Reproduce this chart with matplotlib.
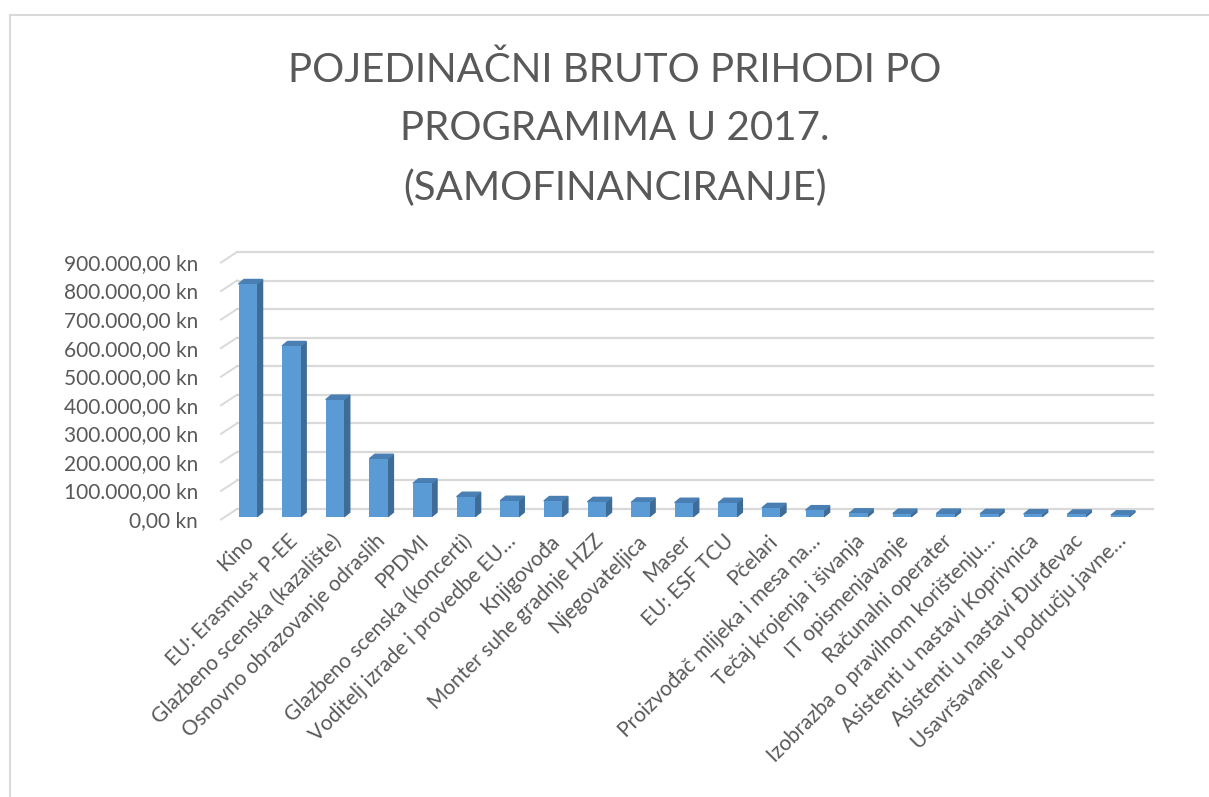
import matplotlib.pyplot as plt
from matplotlib.patches import Polygon
from matplotlib.lines import Line2D

W, H, DPI = 1209, 797, 100

# ---- data ----
categories = [
    "Kino", "EU: Erasmus+ P-EE", "Glazbeno scenska (kazalište)",
    "Osnovno obrazovanje odraslih", "PPDMI", "Glazbeno scenska (koncerti)",
    "Voditelj izrade i provedbe EU…", "Knjigovođa", "Monter suhe gradnje HZZ",
    "Njegovateljica", "Maser", "EU: ESF TCU", "Pčelari",
    "Proizvođač mlijeka i mesa na…", "Tečaj krojenja i šivanja",
    "IT opismenjavanje", "Računalni operater", "Izobrazba o pravilnom korištenju…",
    "Asistenti u nastavi Koprivnica", "Asistenti u nastavi Đurđevac",
    "Usavršavanje u području javne…",
]
values = [815000, 598000, 410000, 203000, 117000, 70000, 56000, 55000, 52000,
          50000, 49000, 49000, 31000, 23000, 12000, 11000, 11000, 10000,
          9000, 8000, 5000]
y_ticks = list(range(0, 900001, 100000))
title_lines = ["POJEDINAČNI BRUTO PRIHODI PO", "PROGRAMIMA U 2017.", "(SAMOFINANCIRANJE)"]


def kn(v):
    s = f"{v:,.2f}".replace(",", "X").replace(".", ",").replace("X", ".")
    return s + " kn"


y_tick_labels = [kn(t) for t in y_ticks]

# ---- style ----
FONT = "Lato"
TEXT_C = "#595959"
GRID_C = "#D9D9D9"
FRONT_C = "#5B9BD5"
SIDE_C = "#3F6C97"
TOP_C = "#4A7FB3"

# back wall geometry in pixels
LEFT, RIGHT, TOP, BOTTOM = 237, 1153, 252, 509
n = len(categories)
px_x = (RIGHT - LEFT) / n
px_y = (BOTTOM - TOP) / y_ticks[-1]

fig = plt.figure(figsize=(W / DPI, H / DPI), dpi=DPI)
ax = fig.add_axes([LEFT / W, 1 - BOTTOM / H, (RIGHT - LEFT) / W, (BOTTOM - TOP) / H])
ax.set_xlim(-0.5, n - 0.5)
ax.set_ylim(0, y_ticks[-1])
ax.axis("off")

# chart border (only top/left visible in the crop)
fig.add_artist(Line2D([10 / W, 10 / W], [0, 1 - 15 / H], color=GRID_C, lw=1.5))
fig.add_artist(Line2D([10 / W, 1], [1 - 15 / H, 1 - 15 / H], color=GRID_C, lw=1.5))

# gridlines on back wall + side wall stubs
stub_dx, stub_dy = -16 / px_x, -10.5 / px_y
for t, lab in zip(y_ticks, y_tick_labels):
    ax.plot([-0.5, n - 0.5], [t, t], color=GRID_C, lw=1.6, zorder=0, clip_on=False)
    ax.plot([-0.5, -0.5 + stub_dx], [t, t + stub_dy], color=GRID_C, lw=1.4,
            zorder=0, clip_on=False)
    ax.text(-0.5 + (198 - LEFT) / px_x, t - 12 / px_y, lab, ha="right", va="center",
            fontsize=15, color=TEXT_C, family=FONT, clip_on=False)

# 3d-ish columns
off_x, off_y = -11 / px_x, -7.7 / px_y
bw = 18.5 / px_x
dx, dy = 5.5 / px_x, 4.5 / px_y
xs = [i + off_x for i in range(n)]
ax.bar(xs, values, width=bw, bottom=off_y, color=FRONT_C, zorder=3, clip_on=False)
for x, v in zip(xs, values):
    x0, x1 = x - bw / 2, x + bw / 2
    y0, y1 = off_y, off_y + v
    ax.add_patch(Polygon([(x1, y0), (x1 + dx, y0 + dy), (x1 + dx, y1 + dy), (x1, y1)],
                         closed=True, color=SIDE_C, zorder=2, clip_on=False))
    ax.add_patch(Polygon([(x0, y1), (x1, y1), (x1 + dx, y1 + dy), (x0 + dx, y1 + dy)],
                         closed=True, color=TOP_C, zorder=2, clip_on=False))

# category labels
for x, lab in zip(xs, categories):
    ax.text(x + 3 / px_x, (BOTTOM - 538) / px_y, lab, rotation=45,
            rotation_mode="anchor", ha="right", va="center", fontsize=15,
            color=TEXT_C, family=FONT, clip_on=False)

# title
for k, line in enumerate(title_lines):
    fig.text(615 / W, 1 - (70 + 59 * k) / H, line, ha="center", va="center",
             fontsize=29, color=TEXT_C, family=FONT)

fig.savefig("out.png", dpi=DPI, facecolor="white")
